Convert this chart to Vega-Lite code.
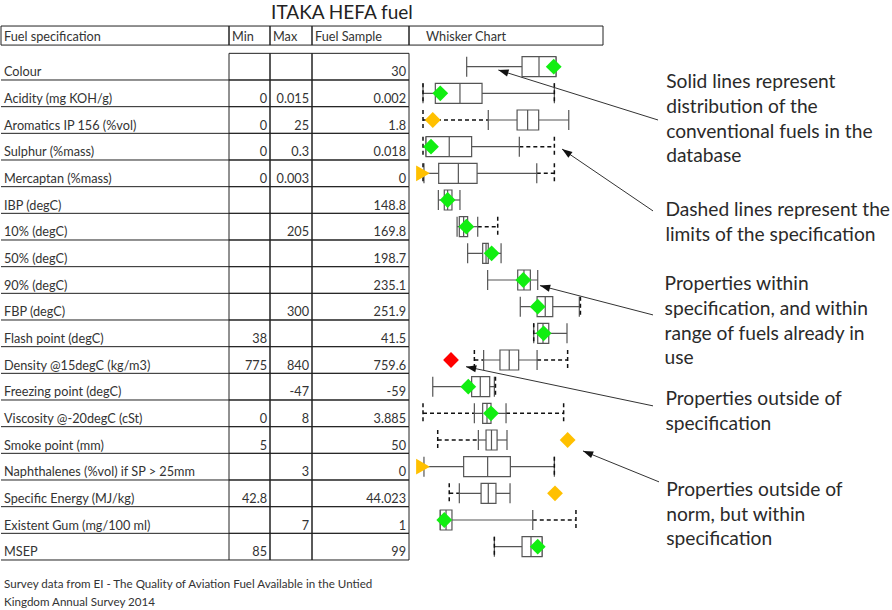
{
  "$schema": "https://vega.github.io/schema/vega-lite/v6.json",
  "padding": 0,
  "spacing": 0,
  "bounds": "flush",
  "background": "white",
  "config": {"view": {"stroke": null}, "text": {"font": "Lato", "color": "#333333"}},
  "datasets": {
    "props": [
      {"row": 0, "name": "Colour", "min": null, "max": null, "sample": 30, "spec_lo": null, "wmin": 27.3, "q1": 61.9, "median": 72.5, "q3": 83.1, "wmax": 83.1, "spec_hi": null, "sample_norm": 81.7, "status": "within"},
      {"row": 1, "name": "Acidity (mg KOH/g)", "min": 0, "max": 0.015, "sample": 0.002, "spec_lo": 0, "wmin": 0, "q1": 7.7, "median": 23.1, "q3": 36.9, "wmax": 82.1, "spec_hi": 82.1, "sample_norm": 10.8, "status": "within"},
      {"row": 2, "name": "Aromatics IP 156 (%vol)", "min": 0, "max": 25, "sample": 1.8, "spec_lo": 0, "wmin": 40.8, "q1": 58.8, "median": 65.4, "q3": 72.3, "wmax": 91.1, "spec_hi": null, "sample_norm": 6.1, "status": "norm"},
      {"row": 3, "name": "Sulphur (%mass)", "min": 0, "max": 0.3, "sample": 0.018, "spec_lo": 0, "wmin": 1.9, "q1": 1.9, "median": 16.4, "q3": 30.4, "wmax": 60.2, "spec_hi": 82.1, "sample_norm": 5.0, "status": "within"},
      {"row": 4, "name": "Mercaptan (%mass)", "min": 0, "max": 0.003, "sample": 0, "spec_lo": 0, "wmin": 0.6, "q1": 9.8, "median": 22.1, "q3": 33.8, "wmax": 71.1, "spec_hi": 82.1, "sample_norm": 0, "status": "norm"},
      {"row": 5, "name": "IBP (degC)", "min": null, "max": null, "sample": 148.8, "spec_lo": null, "wmin": 9.6, "q1": 13.3, "median": 15.4, "q3": 18.1, "wmax": 23.1, "spec_hi": null, "sample_norm": 15.4, "status": "within"},
      {"row": 6, "name": "10% (degC)", "min": null, "max": 205, "sample": 169.8, "spec_lo": null, "wmin": 21.3, "q1": 22.7, "median": 25.4, "q3": 27.9, "wmax": 34.2, "spec_hi": 46.7, "sample_norm": 27.1, "status": "within"},
      {"row": 7, "name": "50% (degC)", "min": null, "max": null, "sample": 198.7, "spec_lo": null, "wmin": 27.9, "q1": 37.3, "median": 39.4, "q3": 40.8, "wmax": 48.8, "spec_hi": null, "sample_norm": 42.9, "status": "within"},
      {"row": 8, "name": "90% (degC)", "min": null, "max": null, "sample": 235.1, "spec_lo": null, "wmin": 40.4, "q1": 59.2, "median": 63.1, "q3": 67.1, "wmax": 71.7, "spec_hi": null, "sample_norm": 62.7, "status": "within"},
      {"row": 9, "name": "FBP (degC)", "min": null, "max": 300, "sample": 251.9, "spec_lo": null, "wmin": 60.8, "q1": 71.3, "median": 76.4, "q3": 81.1, "wmax": 97.7, "spec_hi": 98.4, "sample_norm": 71.7, "status": "within"},
      {"row": 10, "name": "Flash point (degC)", "min": 38, "max": null, "sample": 41.5, "spec_lo": 69.2, "wmin": 69.2, "q1": 71.7, "median": 75, "q3": 78.6, "wmax": 90, "spec_hi": null, "sample_norm": 75.4, "status": "within"},
      {"row": 11, "name": "Density @15degC (kg/m3)", "min": 775, "max": 840, "sample": 759.6, "spec_lo": 32.1, "wmin": 37.9, "q1": 48.1, "median": 53.9, "q3": 59.8, "wmax": 71.3, "spec_hi": 90.4, "sample_norm": 17.5, "status": "spec"},
      {"row": 12, "name": "Freezing point (degC)", "min": null, "max": -47, "sample": -59, "spec_lo": null, "wmin": 6.1, "q1": 30.4, "median": 35.8, "q3": 41.7, "wmax": 44.6, "spec_hi": 45.3, "sample_norm": 28.3, "status": "within"},
      {"row": 13, "name": "Viscosity @-20degC (cSt)", "min": 0, "max": 8, "sample": 3.885, "spec_lo": 0, "wmin": 32.1, "q1": 37.3, "median": 40, "q3": 42.5, "wmax": 51.9, "spec_hi": 87.9, "sample_norm": 42.5, "status": "within"},
      {"row": 14, "name": "Smoke point (mm)", "min": 5, "max": null, "sample": 50, "spec_lo": 9.2, "wmin": 34.6, "q1": 39.4, "median": 42.8, "q3": 46.3, "wmax": 52.5, "spec_hi": null, "sample_norm": 90.4, "status": "norm"},
      {"row": 15, "name": "Naphthalenes (%vol) if SP > 25mm", "min": null, "max": 3, "sample": 0, "spec_lo": null, "wmin": 0.6, "q1": 25.4, "median": 40.4, "q3": 54.6, "wmax": 82.1, "spec_hi": 82.1, "sample_norm": 0, "status": "norm"},
      {"row": 16, "name": "Specific Energy (MJ/kg)", "min": 42.8, "max": null, "sample": 44.023, "spec_lo": 16.4, "wmin": 22.7, "q1": 36.3, "median": 40.8, "q3": 45.6, "wmax": 54.4, "spec_hi": null, "sample_norm": 82.5, "status": "norm"},
      {"row": 17, "name": "Existent Gum (mg/100 ml)", "min": null, "max": 7, "sample": 1, "spec_lo": null, "wmin": 10.8, "q1": 10.8, "median": 14.4, "q3": 18.1, "wmax": 68.6, "spec_hi": 95.6, "sample_norm": 13.3, "status": "within"},
      {"row": 18, "name": "MSEP", "min": 85, "max": null, "sample": 99, "spec_lo": 44.6, "wmin": 44.6, "q1": 61.9, "median": 67.5, "q3": 74.4, "wmax": 74.4, "spec_hi": null, "sample_norm": 71.7, "status": "within"}
    ],
    "notes": [
      {"row": 0.575, "x_norm": 152, "lines": ["Solid lines represent", "distribution of the", "conventional fuels in the", "database"]},
      {"row": 5.375, "x_norm": 151.5, "lines": ["Dashed lines represent the", "limits of the specification"]},
      {"row": 8.15, "x_norm": 151, "lines": ["Properties within", "specification, and within", "range of fuels already in", "use"]},
      {"row": 12.46, "x_norm": 151.5, "lines": ["Properties outside of", "specification"]},
      {"row": 15.87, "x_norm": 152, "lines": ["Properties outside of", "norm, but within", "specification"]}
    ],
    "arrows": [
      {"from_x": 146.9, "from_row": 2.0, "to_x": 47.1, "to_row": 0.125, "bearing": 287.4},
      {"from_x": 143.75, "from_row": 5.41, "to_x": 86.9, "to_row": 3.09, "bearing": 304.6},
      {"from_x": 143.75, "from_row": 9.31, "to_x": 73.1, "to_row": 8.21, "bearing": 284.6},
      {"from_x": 143.75, "from_row": 12.72, "to_x": 26.9, "to_row": 11.25, "bearing": 281.9},
      {"from_x": 147.5, "from_row": 15.57, "to_x": 100, "to_row": 14.41, "bearing": 292.2}
    ]
  },
  "hconcat": [
    {
      "width": 228, "height": 610,
      "layer": [
        {"data": {"values": [{}]}, "mark": {"type": "rect", "fillOpacity": 0, "stroke": "#222222", "strokeWidth": 1},
         "encoding": {"x": {"datum": 0, "type": "quantitative", "scale": {"domain": [0, 1], "nice": false, "zero": false}, "axis": null}, "x2": {"datum": 1},
                      "y": {"datum": -1.524, "type": "quantitative", "scale": {"domain": [-2.5, 20.375], "reverse": true, "nice": false, "zero": false}, "axis": null}, "y2": {"datum": -0.81}}},
        {"data": {"values": [{}]}, "mark": {"type": "text", "text": "Fuel specification", "align": "left", "baseline": "middle", "dx": 3, "dy": 1.5, "fontSize": 12.7},
         "encoding": {"x": {"datum": 0, "type": "quantitative", "scale": {"domain": [0, 1], "nice": false, "zero": false}, "axis": null},
                      "y": {"datum": -1.17, "type": "quantitative", "scale": {"domain": [-2.5, 20.375], "reverse": true, "nice": false, "zero": false}, "axis": null}}},
        {"data": {"name": "props"}, "mark": {"type": "rule", "yOffset": 13.33, "stroke": "#222222", "strokeWidth": 1},
         "encoding": {"x": {"datum": 0, "type": "quantitative", "scale": {"domain": [0, 1], "nice": false, "zero": false}, "axis": null}, "x2": {"datum": 1},
                      "y": {"field": "row", "type": "quantitative", "scale": {"domain": [-2.5, 20.375], "reverse": true, "nice": false, "zero": false}, "axis": null}}},
        {"data": {"name": "props"}, "mark": {"type": "text", "align": "left", "baseline": "middle", "dx": 3, "dy": 5.5, "fontSize": 12.7},
         "encoding": {"x": {"datum": 0, "type": "quantitative", "scale": {"domain": [0, 1], "nice": false, "zero": false}, "axis": null},
                      "y": {"field": "row", "type": "quantitative", "scale": {"domain": [-2.5, 20.375], "reverse": true, "nice": false, "zero": false}, "axis": null},
                      "text": {"field": "name", "type": "nominal"}}},
        {"data": {"values": [{}]}, "mark": {"type": "text", "text": ["Survey data from EI - The Quality of Aviation Fuel Available in the Untied", "\u00a0Kingdom Annual Survey 2014"], "align": "left", "baseline": "middle", "dx": 3, "dy": 2, "fontSize": 11.6, "lineHeight": 18},
         "encoding": {"x": {"datum": 0, "type": "quantitative", "scale": {"domain": [0, 1], "nice": false, "zero": false}, "axis": null},
                      "y": {"datum": 19.36, "type": "quantitative", "scale": {"domain": [-2.5, 20.375], "reverse": true, "nice": false, "zero": false}, "axis": null}}}
      ]
    },
    {
      "width": 41, "height": 610,
      "layer": [
        {"data": {"values": [{}]}, "mark": {"type": "rect", "fillOpacity": 0, "stroke": "#222222", "strokeWidth": 1},
         "encoding": {"x": {"datum": 0, "type": "quantitative", "scale": {"domain": [0, 1], "nice": false, "zero": false}, "axis": null}, "x2": {"datum": 1},
                      "y": {"datum": -1.524, "type": "quantitative", "scale": {"domain": [-2.5, 20.375], "reverse": true, "nice": false, "zero": false}, "axis": null}, "y2": {"datum": -0.81}}},
        {"data": {"values": [{}]}, "mark": {"type": "text", "text": "Min", "align": "left", "baseline": "middle", "dx": 3, "dy": 1.5, "fontSize": 12.7},
         "encoding": {"x": {"datum": 0, "type": "quantitative", "scale": {"domain": [0, 1], "nice": false, "zero": false}, "axis": null},
                      "y": {"datum": -1.17, "type": "quantitative", "scale": {"domain": [-2.5, 20.375], "reverse": true, "nice": false, "zero": false}, "axis": null}}},
        {"data": {"name": "props"}, "mark": {"type": "rect", "yOffset": -13.33, "y2Offset": 13.33, "fillOpacity": 0, "stroke": "#222222", "strokeWidth": 1},
         "encoding": {"x": {"datum": 0, "type": "quantitative", "scale": {"domain": [0, 1], "nice": false, "zero": false}, "axis": null}, "x2": {"datum": 1},
                      "y": {"field": "row", "type": "quantitative", "scale": {"domain": [-2.5, 20.375], "reverse": true, "nice": false, "zero": false}, "axis": null}, "y2": {"field": "row"}}},
        {"data": {"name": "props"}, "transform": [{"filter": "datum.min != null"}], "mark": {"type": "text", "align": "right", "baseline": "middle", "dx": -3, "dy": 5.5, "fontSize": 12.7},
         "encoding": {"x": {"datum": 1, "type": "quantitative", "scale": {"domain": [0, 1], "nice": false, "zero": false}, "axis": null},
                      "y": {"field": "row", "type": "quantitative", "scale": {"domain": [-2.5, 20.375], "reverse": true, "nice": false, "zero": false}, "axis": null},
                      "text": {"field": "min", "type": "nominal"}}}
      ]
    },
    {
      "width": 42, "height": 610,
      "layer": [
        {"data": {"values": [{}]}, "mark": {"type": "rect", "fillOpacity": 0, "stroke": "#222222", "strokeWidth": 1},
         "encoding": {"x": {"datum": 0, "type": "quantitative", "scale": {"domain": [0, 1], "nice": false, "zero": false}, "axis": null}, "x2": {"datum": 1},
                      "y": {"datum": -1.524, "type": "quantitative", "scale": {"domain": [-2.5, 20.375], "reverse": true, "nice": false, "zero": false}, "axis": null}, "y2": {"datum": -0.81}}},
        {"data": {"values": [{}]}, "mark": {"type": "text", "text": "Max", "align": "left", "baseline": "middle", "dx": 3, "dy": 1.5, "fontSize": 12.7},
         "encoding": {"x": {"datum": 0, "type": "quantitative", "scale": {"domain": [0, 1], "nice": false, "zero": false}, "axis": null},
                      "y": {"datum": -1.17, "type": "quantitative", "scale": {"domain": [-2.5, 20.375], "reverse": true, "nice": false, "zero": false}, "axis": null}}},
        {"data": {"name": "props"}, "mark": {"type": "rect", "yOffset": -13.33, "y2Offset": 13.33, "fillOpacity": 0, "stroke": "#222222", "strokeWidth": 1},
         "encoding": {"x": {"datum": 0, "type": "quantitative", "scale": {"domain": [0, 1], "nice": false, "zero": false}, "axis": null}, "x2": {"datum": 1},
                      "y": {"field": "row", "type": "quantitative", "scale": {"domain": [-2.5, 20.375], "reverse": true, "nice": false, "zero": false}, "axis": null}, "y2": {"field": "row"}}},
        {"data": {"name": "props"}, "transform": [{"filter": "datum.max != null"}], "mark": {"type": "text", "align": "right", "baseline": "middle", "dx": -3, "dy": 5.5, "fontSize": 12.7},
         "encoding": {"x": {"datum": 1, "type": "quantitative", "scale": {"domain": [0, 1], "nice": false, "zero": false}, "axis": null},
                      "y": {"field": "row", "type": "quantitative", "scale": {"domain": [-2.5, 20.375], "reverse": true, "nice": false, "zero": false}, "axis": null},
                      "text": {"field": "max", "type": "nominal"}}}
      ]
    },
    {
      "width": 97, "height": 610,
      "layer": [
        {"data": {"values": [{}]}, "mark": {"type": "rect", "fillOpacity": 0, "stroke": "#222222", "strokeWidth": 1},
         "encoding": {"x": {"datum": 0, "type": "quantitative", "scale": {"domain": [0, 1], "nice": false, "zero": false}, "axis": null}, "x2": {"datum": 1},
                      "y": {"datum": -1.524, "type": "quantitative", "scale": {"domain": [-2.5, 20.375], "reverse": true, "nice": false, "zero": false}, "axis": null}, "y2": {"datum": -0.81}}},
        {"data": {"values": [{}]}, "mark": {"type": "text", "text": "Fuel Sample", "align": "left", "baseline": "middle", "dx": 3, "dy": 1.5, "fontSize": 12.7},
         "encoding": {"x": {"datum": 0, "type": "quantitative", "scale": {"domain": [0, 1], "nice": false, "zero": false}, "axis": null},
                      "y": {"datum": -1.17, "type": "quantitative", "scale": {"domain": [-2.5, 20.375], "reverse": true, "nice": false, "zero": false}, "axis": null}}},
        {"data": {"values": [{}]}, "mark": {"type": "text", "text": "ITAKA HEFA fuel", "align": "center", "baseline": "middle", "fontSize": 19, "color": "#222222"},
         "encoding": {"x": {"datum": 0.309, "type": "quantitative", "scale": {"domain": [0, 1], "nice": false, "zero": false}, "axis": null},
                      "y": {"datum": -2.0, "type": "quantitative", "scale": {"domain": [-2.5, 20.375], "reverse": true, "nice": false, "zero": false}, "axis": null}}},
        {"data": {"name": "props"}, "mark": {"type": "rect", "yOffset": -13.33, "y2Offset": 13.33, "fillOpacity": 0, "stroke": "#222222", "strokeWidth": 1},
         "encoding": {"x": {"datum": 0, "type": "quantitative", "scale": {"domain": [0, 1], "nice": false, "zero": false}, "axis": null}, "x2": {"datum": 1},
                      "y": {"field": "row", "type": "quantitative", "scale": {"domain": [-2.5, 20.375], "reverse": true, "nice": false, "zero": false}, "axis": null}, "y2": {"field": "row"}}},
        {"data": {"name": "props"}, "mark": {"type": "text", "align": "right", "baseline": "middle", "dx": -3, "dy": 5.5, "fontSize": 12.7},
         "encoding": {"x": {"datum": 1, "type": "quantitative", "scale": {"domain": [0, 1], "nice": false, "zero": false}, "axis": null},
                      "y": {"field": "row", "type": "quantitative", "scale": {"domain": [-2.5, 20.375], "reverse": true, "nice": false, "zero": false}, "axis": null},
                      "text": {"field": "sample", "type": "nominal"}}}
      ]
    },
    {
      "width": 484, "height": 610,
      "layer": [
        {"data": {"values": [{}]}, "mark": {"type": "rect", "fillOpacity": 0, "stroke": "#222222", "strokeWidth": 1},
         "encoding": {"x": {"datum": -8.75, "type": "quantitative", "scale": {"domain": [-8.75, 293.75], "nice": false, "zero": false}, "axis": null}, "x2": {"datum": 112.5},
                      "y": {"datum": -1.524, "type": "quantitative", "scale": {"domain": [-2.5, 20.375], "reverse": true, "nice": false, "zero": false}, "axis": null}, "y2": {"datum": -0.81}}},
        {"data": {"values": [{}]}, "mark": {"type": "text", "text": "Whisker Chart", "align": "left", "baseline": "middle", "dx": 3, "dy": 1.5, "fontSize": 12.7},
         "encoding": {"x": {"datum": 0, "type": "quantitative", "scale": {"domain": [-8.75, 293.75], "nice": false, "zero": false}, "axis": null},
                      "y": {"datum": -1.17, "type": "quantitative", "scale": {"domain": [-2.5, 20.375], "reverse": true, "nice": false, "zero": false}, "axis": null}}},
        {"data": {"name": "props"}, "transform": [{"filter": "datum.spec_lo != null"}], "mark": {"type": "rule", "stroke": "#111111", "strokeWidth": 1.5, "strokeDash": [4, 3]},
         "encoding": {"x": {"field": "spec_lo", "type": "quantitative", "scale": {"domain": [-8.75, 293.75], "nice": false, "zero": false}, "axis": null}, "x2": {"field": "wmin"},
                      "y": {"field": "row", "type": "quantitative", "scale": {"domain": [-2.5, 20.375], "reverse": true, "nice": false, "zero": false}, "axis": null}}},
        {"data": {"name": "props"}, "transform": [{"filter": "datum.spec_hi != null"}], "mark": {"type": "rule", "stroke": "#111111", "strokeWidth": 1.5, "strokeDash": [4, 3]},
         "encoding": {"x": {"field": "wmax", "type": "quantitative", "scale": {"domain": [-8.75, 293.75], "nice": false, "zero": false}, "axis": null}, "x2": {"field": "spec_hi"},
                      "y": {"field": "row", "type": "quantitative", "scale": {"domain": [-2.5, 20.375], "reverse": true, "nice": false, "zero": false}, "axis": null}}},
        {"data": {"name": "props"}, "mark": {"type": "rule", "stroke": "#555555", "strokeWidth": 1.2},
         "encoding": {"x": {"field": "wmin", "type": "quantitative", "scale": {"domain": [-8.75, 293.75], "nice": false, "zero": false}, "axis": null}, "x2": {"field": "wmax"},
                      "y": {"field": "row", "type": "quantitative", "scale": {"domain": [-2.5, 20.375], "reverse": true, "nice": false, "zero": false}, "axis": null}}},
        {"data": {"name": "props"}, "mark": {"type": "rule", "stroke": "#555555", "strokeWidth": 1.2, "yOffset": -10, "y2Offset": 10},
         "encoding": {"x": {"field": "wmin", "type": "quantitative", "scale": {"domain": [-8.75, 293.75], "nice": false, "zero": false}, "axis": null},
                      "y": {"field": "row", "type": "quantitative", "scale": {"domain": [-2.5, 20.375], "reverse": true, "nice": false, "zero": false}, "axis": null}, "y2": {"field": "row"}}},
        {"data": {"name": "props"}, "mark": {"type": "rule", "stroke": "#555555", "strokeWidth": 1.2, "yOffset": -10, "y2Offset": 10},
         "encoding": {"x": {"field": "wmax", "type": "quantitative", "scale": {"domain": [-8.75, 293.75], "nice": false, "zero": false}, "axis": null},
                      "y": {"field": "row", "type": "quantitative", "scale": {"domain": [-2.5, 20.375], "reverse": true, "nice": false, "zero": false}, "axis": null}, "y2": {"field": "row"}}},
        {"data": {"name": "props"}, "mark": {"type": "rect", "fill": "white", "stroke": "#555555", "strokeWidth": 1.2, "yOffset": -10, "y2Offset": 10},
         "encoding": {"x": {"field": "q1", "type": "quantitative", "scale": {"domain": [-8.75, 293.75], "nice": false, "zero": false}, "axis": null}, "x2": {"field": "q3"},
                      "y": {"field": "row", "type": "quantitative", "scale": {"domain": [-2.5, 20.375], "reverse": true, "nice": false, "zero": false}, "axis": null}, "y2": {"field": "row"}}},
        {"data": {"name": "props"}, "mark": {"type": "rule", "stroke": "#555555", "strokeWidth": 1.2, "yOffset": -10, "y2Offset": 10},
         "encoding": {"x": {"field": "median", "type": "quantitative", "scale": {"domain": [-8.75, 293.75], "nice": false, "zero": false}, "axis": null},
                      "y": {"field": "row", "type": "quantitative", "scale": {"domain": [-2.5, 20.375], "reverse": true, "nice": false, "zero": false}, "axis": null}, "y2": {"field": "row"}}},
        {"data": {"name": "props"}, "transform": [{"filter": "datum.spec_lo != null"}], "mark": {"type": "rule", "stroke": "#111111", "strokeWidth": 1.5, "strokeDash": [4, 3], "yOffset": -10, "y2Offset": 10},
         "encoding": {"x": {"field": "spec_lo", "type": "quantitative", "scale": {"domain": [-8.75, 293.75], "nice": false, "zero": false}, "axis": null},
                      "y": {"field": "row", "type": "quantitative", "scale": {"domain": [-2.5, 20.375], "reverse": true, "nice": false, "zero": false}, "axis": null}, "y2": {"field": "row"}}},
        {"data": {"name": "props"}, "transform": [{"filter": "datum.spec_hi != null"}], "mark": {"type": "rule", "stroke": "#111111", "strokeWidth": 1.5, "strokeDash": [4, 3], "yOffset": -10, "y2Offset": 10},
         "encoding": {"x": {"field": "spec_hi", "type": "quantitative", "scale": {"domain": [-8.75, 293.75], "nice": false, "zero": false}, "axis": null},
                      "y": {"field": "row", "type": "quantitative", "scale": {"domain": [-2.5, 20.375], "reverse": true, "nice": false, "zero": false}, "axis": null}, "y2": {"field": "row"}}},
        {"data": {"name": "props"}, "mark": {"type": "point", "filled": true, "opacity": 1, "size": 250},
         "encoding": {"x": {"field": "sample_norm", "type": "quantitative", "scale": {"domain": [-8.75, 293.75], "nice": false, "zero": false}, "axis": null},
                      "y": {"field": "row", "type": "quantitative", "scale": {"domain": [-2.5, 20.375], "reverse": true, "nice": false, "zero": false}, "axis": null},
                      "color": {"field": "status", "type": "nominal", "scale": {"domain": ["within", "spec", "norm"], "range": ["#11ee11", "#ff0000", "#ffc000"]}, "legend": null},
                      "shape": {"condition": {"test": "datum.sample_norm <= 0", "value": "triangle-right"}, "value": "diamond"}}},
        {"data": {"name": "arrows"}, "mark": {"type": "rule", "stroke": "#333333", "strokeWidth": 1},
         "encoding": {"x": {"field": "from_x", "type": "quantitative", "scale": {"domain": [-8.75, 293.75], "nice": false, "zero": false}, "axis": null}, "x2": {"field": "to_x"},
                      "y": {"field": "from_row", "type": "quantitative", "scale": {"domain": [-2.5, 20.375], "reverse": true, "nice": false, "zero": false}, "axis": null}, "y2": {"field": "to_row"}}},
        {"data": {"name": "arrows"}, "mark": {"type": "point", "filled": true, "opacity": 1, "color": "#111111", "size": 144, "shape": "M0,0L0.6,1.7L-0.6,1.7Z"},
         "encoding": {"x": {"field": "to_x", "type": "quantitative", "scale": {"domain": [-8.75, 293.75], "nice": false, "zero": false}, "axis": null},
                      "y": {"field": "to_row", "type": "quantitative", "scale": {"domain": [-2.5, 20.375], "reverse": true, "nice": false, "zero": false}, "axis": null},
                      "angle": {"field": "bearing", "type": "quantitative", "scale": null}}},
        {"data": {"name": "notes"}, "mark": {"type": "text", "align": "left", "baseline": "middle", "fontSize": 19.2, "lineHeight": 24.8, "color": "#2a2a2a"},
         "encoding": {"x": {"field": "x_norm", "type": "quantitative", "scale": {"domain": [-8.75, 293.75], "nice": false, "zero": false}, "axis": null},
                      "y": {"field": "row", "type": "quantitative", "scale": {"domain": [-2.5, 20.375], "reverse": true, "nice": false, "zero": false}, "axis": null},
                      "text": {"field": "lines", "type": "nominal"}}}
      ]
    }
  ]
}
